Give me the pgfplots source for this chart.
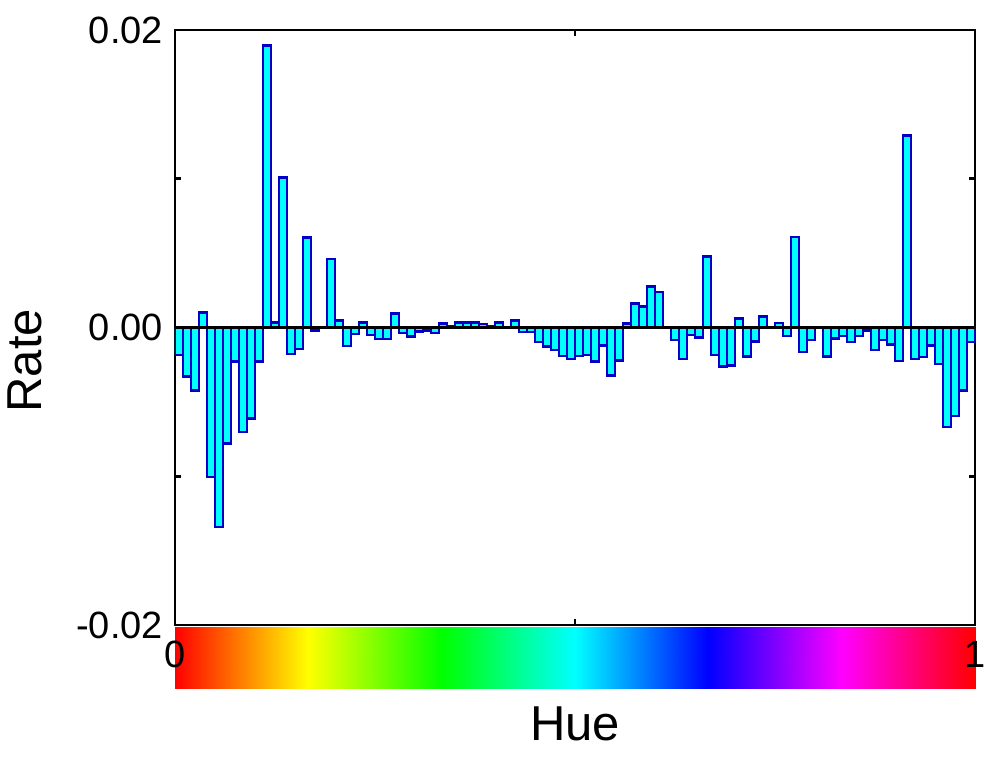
\documentclass[border=0pt]{standalone}
\usepackage{pgfplots}
\pgfplotsset{compat=1.18}
\usepackage{pgfplotstable}
\usepackage{fontspec}
\setmainfont{Liberation Sans}
\definecolor{barfill}{RGB}{0,255,255}
\definecolor{baredge}{RGB}{0,0,200}

\pgfplotstableread{
x y
0.005 -0.00184
0.015 -0.00330
0.025 -0.00424
0.035 0.00101
0.045 -0.01004
0.055 -0.01340
0.065 -0.00780
0.075 -0.00229
0.085 -0.00701
0.095 -0.00612
0.105 -0.00229
0.115 0.01896
0.125 0.00034
0.135 0.01009
0.145 -0.00177
0.155 -0.00143
0.165 0.00605
0.175 -0.00020
0.185 0.00000
0.195 0.00460
0.205 0.00047
0.215 -0.00123
0.225 -0.00044
0.235 0.00034
0.245 -0.00049
0.255 -0.00076
0.265 -0.00076
0.275 0.00094
0.285 -0.00038
0.295 -0.00060
0.305 -0.00027
0.315 -0.00020
0.325 -0.00038
0.335 0.00027
0.345 0.00010
0.355 0.00034
0.365 0.00034
0.375 0.00034
0.385 0.00025
0.395 0.00010
0.405 0.00034
0.415 0.00000
0.425 0.00047
0.435 -0.00031
0.445 -0.00031
0.455 -0.00096
0.465 -0.00128
0.475 -0.00150
0.485 -0.00190
0.495 -0.00210
0.505 -0.00190
0.515 -0.00184
0.525 -0.00229
0.535 -0.00121
0.545 -0.00323
0.555 -0.00222
0.565 0.00027
0.575 0.00161
0.585 0.00141
0.595 0.00276
0.605 0.00238
0.615 -0.00005
0.625 -0.00083
0.635 -0.00210
0.645 -0.00049
0.655 -0.00067
0.665 0.00478
0.675 -0.00184
0.685 -0.00262
0.695 -0.00255
0.705 0.00060
0.715 -0.00195
0.725 -0.00094
0.735 0.00074
0.745 0.00000
0.755 0.00030
0.765 -0.00057
0.775 0.00610
0.785 -0.00166
0.795 -0.00085
0.805 0.00000
0.815 -0.00195
0.825 -0.00074
0.835 -0.00057
0.845 -0.00097
0.855 -0.00057
0.865 -0.00020
0.875 -0.00150
0.885 -0.00085
0.895 -0.00113
0.905 -0.00225
0.915 0.01290
0.925 -0.00210
0.935 -0.00200
0.945 -0.00121
0.955 -0.00244
0.965 -0.00670
0.975 -0.00594
0.985 -0.00424
0.995 -0.00098
}\ratedata

\begin{document}
\begin{tikzpicture}
% hue colour strip
\begin{axis}[
  at={(0pt,-1pt)}, anchor=north west,
  scale only axis, width=400pt, height=30.5pt,
  hide axis, view={0}{90},
  xmin=0, xmax=1, ymin=0, ymax=1,
  colormap={hue}{rgb255=(255,0,0) rgb255=(255,255,0) rgb255=(0,255,0) rgb255=(0,255,255) rgb255=(0,0,255) rgb255=(255,0,255) rgb255=(255,0,0)},
  point meta min=0, point meta max=1,
]
\addplot3[surf, shader=interp, point meta=x, mesh/cols=7] table {
x y z
0 0 0
0.1666667 0 0
0.3333333 0 0
0.5 0 0
0.6666667 0 0
0.8333333 0 0
1 0 0
0 1 0
0.1666667 1 0
0.3333333 1 0
0.5 1 0
0.6666667 1 0
0.8333333 1 0
1 1 0
};
\end{axis}
% main bar chart
\begin{axis}[
  at={(0pt,0pt)}, anchor=south west,
  scale only axis, width=400pt, height=297.5pt,
  xmin=0, xmax=1, ymin=-0.02, ymax=0.02,
  scaled y ticks=false, scaled x ticks=false,
  axis line style={line width=1.4pt},
  tick style={line width=1.3pt, black},
  major tick length=3pt,
  tick align=inside,
  xtick pos=both, ytick pos=both,
  xtick={0,0.5,1}, xticklabels={0,,1},
  ytick={-0.02,-0.01,0,0.01,0.02}, yticklabels={-0.02,,0.00,,0.02},
  tick label style={font=\fontsize{19}{19}\selectfont},
  xticklabel style={anchor=base, yshift=-21pt},
  yticklabel style={xshift=-2.5pt},
  xlabel={Hue}, ylabel={Rate},
  label style={font=\fontsize{24.5}{24.5}\selectfont},
  xlabel style={at={(axis description cs:0.5,0)}, anchor=base, yshift=-57.5pt},
  ylabel style={at={(axis description cs:-0.1875,0.444)}, anchor=center},
]
\addplot[ybar, bar width=0.01, bar shift=0pt, fill=barfill, draw=baredge, line width=1.2pt] table[x=x, y=y] {\ratedata};
\addplot[black, line width=1.3pt] coordinates {(0,0) (1,0)};
\end{axis}
\pgfresetboundingbox
\useasboundingbox (-87.5pt,-65.5pt) rectangle (406.5pt,312.5pt);
\end{tikzpicture}
\end{document}
